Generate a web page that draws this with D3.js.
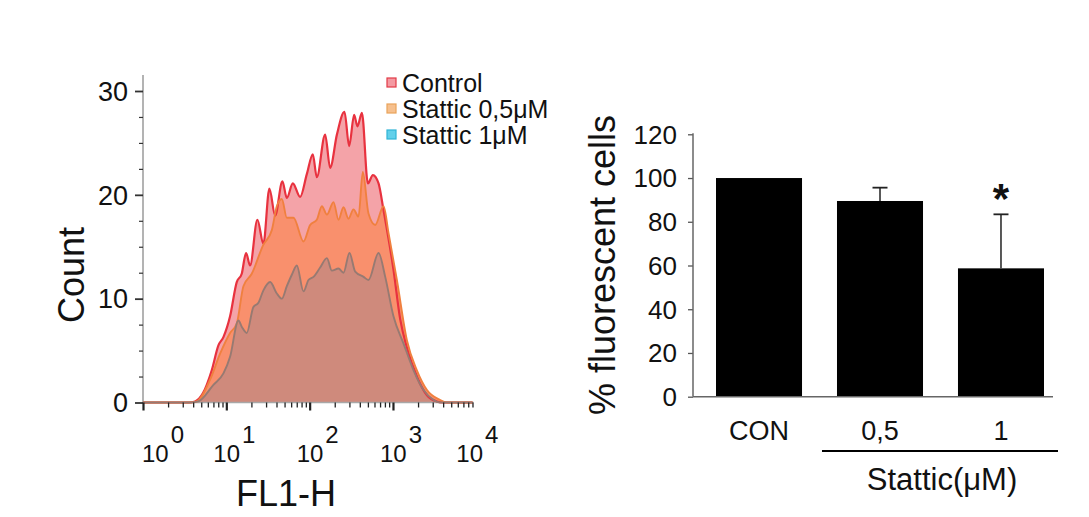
<!DOCTYPE html>
<html><head><meta charset="utf-8">
<script src="https://cdn.jsdelivr.net/npm/d3@7"></script>
<style>
html,body{margin:0;padding:0;background:#fff;}
svg{display:block;font-family:"Liberation Sans",Arial,Helvetica,sans-serif;}
</style></head>
<body><svg id="c" width="1089" height="517"></svg>
<script>
// ---------- DATA ----------
// Histogram (x = log10 FL1-H, y = count)
const ctrlLog   = [0,0.55,0.625,0.72,0.825,0.905,0.965,1.045,1.125,1.185,1.237,1.285,1.373,1.445,1.517,1.586,1.673,1.726,1.798,1.886,1.966,2.038,2.086,2.186,2.246,2.327,2.418,2.474,2.534,2.574,2.627,2.699,2.759,2.827,2.887,3.006,3.087,3.167,3.287,3.408,3.528,3.6,3.96];
const ctrlCount = [0,0,0.1,0.9,3.1,5.5,6.3,8.3,11.6,12.4,14.4,13.2,17.6,15.3,20.6,18.0,21.3,19.7,21.1,19.8,22.0,23.9,21.7,25.8,22.6,25.8,28.0,24.7,27.7,26.6,27.9,21.1,21.9,21.1,18.5,12.8,8.0,5.3,2.5,0.7,0.1,0,0];
const s05Log    = [0,0.56,0.645,0.805,0.925,1.045,1.125,1.205,1.305,1.445,1.546,1.606,1.666,1.726,1.806,1.926,2.006,2.086,2.147,2.207,2.286,2.346,2.406,2.466,2.526,2.586,2.638,2.706,2.787,2.887,2.947,3.047,3.167,3.287,3.408,3.568,3.65,3.96];
const s05Count  = [0,0,0.1,2.2,4.7,6.7,7.6,11.2,12.4,15.2,16.6,18.9,19.6,17.8,17.8,15.5,17.1,17.6,18.9,18.1,19.3,17.6,18.8,17.7,18.6,17.9,22.2,18.2,17.1,18.9,16.3,11.8,6.0,3.1,1.2,0.24,0,0];
const s1Log     = [0,0.58,0.664,0.845,0.965,1.045,1.145,1.185,1.245,1.325,1.385,1.445,1.526,1.606,1.666,1.726,1.786,1.846,1.926,1.986,2.046,2.126,2.207,2.267,2.346,2.406,2.478,2.547,2.647,2.706,2.827,2.907,3.006,3.126,3.247,3.367,3.487,3.56,3.96];
const s1Count   = [0,0,0.1,1.7,2.8,4.4,7.9,7.3,6.7,9.2,9.6,10.8,11.6,10.5,10.0,11.2,12.3,13.2,10.7,11.8,12.1,13.0,13.9,12.7,12.9,12.5,14.4,12.6,12.1,11.8,14.4,12.1,8.3,5.7,3.1,1.2,0.24,0,0];
const seriesNames = ["Control","Stattic 0,5μM","Stattic 1μM"];
const histYTicks = [0,10,20,30];
const histDecades = [0,1,2,3,4];

// Bar chart
const barCats   = ["CON","0,5","1"];
const barValues = [100, 89.5, 58.7];
const barErrors = [0, 6.1, 24.7];
const barSig    = ["", "", "*"];
const barYTicks = [0,20,40,60,80,100,120];

// ---------- DRAW ----------
const svg = d3.select("#c");

// ===== Left panel: histogram =====
const xH = d3.scaleLog().domain([1,1e4]).range([143,476.3]);
const yH = d3.scaleLinear().domain([0,30]).range([402.5,91]);
const axisEnd = xH(9000);

const fills  = ["#f4a3a8","#f9906d","#cf8a7c"];
const strokes= ["#e8323f","#f0803f","#977a72"];
const swFill = ["#f49aa2","#f6c08e","#62d0ea"];
const swStroke=["#e23a46","#e9a35a","#2fb4d6"];

const series = [[ctrlLog,ctrlCount],[s05Log,s05Count],[s1Log,s1Count]].map(([lx,cy]) =>
  lx.map((v,i)=>({x:Math.pow(10,v), y:cy[i]})));

const area = d3.area().curve(d3.curveMonotoneX)
  .x(d=>Math.min(xH(d.x),axisEnd)).y0(yH(0)).y1(d=>yH(d.y));
const line = d3.line().curve(d3.curveMonotoneX)
  .x(d=>Math.min(xH(d.x),axisEnd)).y(d=>yH(d.y));

const gH = svg.append("g");
series.forEach((s,i)=>{
  gH.append("path").datum(s).attr("d",area).attr("fill",fills[i]);
});

// axes lines
gH.append("line").attr("x1",143).attr("x2",143).attr("y1",75).attr("y2",yH(0))
  .attr("stroke","#9a9a9a").attr("stroke-width",1.5);
gH.append("line").attr("x1",143).attr("x2",axisEnd+1).attr("y1",yH(0)).attr("y2",yH(0))
  .attr("stroke","#a8a8a8").attr("stroke-width",1.5);

series.forEach((s,i)=>{
  gH.append("path").datum(s).attr("d",line).attr("fill","none")
    .attr("stroke",strokes[i]).attr("stroke-width",i===0?2.2:1.9).attr("stroke-linejoin","round");
});

// y axis ticks
const yMajor = d3.axisLeft(yH).tickValues(histYTicks).tickSize(8).tickFormat("");
const yMinor = d3.axisLeft(yH).tickValues(d3.range(0,31,2.5).filter(v=>v%10!==0)).tickSize(4).tickFormat("");
[yMajor,yMinor].forEach((ax,k)=>{
  const g = gH.append("g").attr("transform","translate(143,0)").call(ax);
  g.select(".domain").remove();
  g.selectAll("line").attr("stroke","#333").attr("stroke-width",k===0?1.8:1.2);
});
gH.selectAll(".ylab").data(histYTicks).join("text")
  .attr("x",128).attr("y",d=>yH(d)).attr("dy","0.36em").attr("text-anchor","end")
  .attr("font-size",27).attr("fill","#111").text(d=>d);

// x axis ticks (log)
const majorX = histDecades.filter(d=>d<4).map(d=>Math.pow(10,d));
const minorX = [];
[0,1,2,3].forEach(d=>{ for(let m=2;m<=9;m++) minorX.push(m*Math.pow(10,d)); });
const xMajorAx = d3.axisBottom(xH).tickValues(majorX).tickSize(8).tickFormat("");
const xMinorAx = d3.axisBottom(xH).tickValues(minorX).tickSize(5).tickFormat("");
[xMajorAx,xMinorAx].forEach((ax,k)=>{
  const g = gH.append("g").attr("transform",`translate(0,${yH(0)})`).call(ax);
  g.select(".domain").remove();
  g.selectAll("line").attr("stroke","#222").attr("stroke-width",k===0?2.2:1.3);
});
const xl = gH.selectAll(".xlab").data(histDecades).join("text")
  .attr("x",d=>xH(Math.pow(10,d)) + (d===0?-1:(d===4?-20:-13)))
  .attr("y",462).attr("font-size",24).attr("fill","#111");
xl.append("tspan").text("10");
xl.append("tspan").attr("dy",-19).attr("dx",2).text(d=>d);

gH.append("text").attr("x",286).attr("y",506).attr("text-anchor","middle")
  .attr("font-size",36).attr("fill","#111").text("FL1-H");
gH.append("text").attr("transform","translate(84,275) rotate(-90)").attr("text-anchor","middle")
  .attr("font-size",36).attr("fill","#111").text("Count");

// legend
const lg = gH.selectAll(".lg").data(seriesNames).join("g")
  .attr("transform",(d,i)=>`translate(387,${78+i*26})`);
lg.append("rect").attr("width",9).attr("height",9)
  .attr("fill",(d,i)=>swFill[i]).attr("stroke",(d,i)=>swStroke[i]).attr("stroke-width",1.2);
lg.append("text").attr("x",15).attr("y",14).attr("font-size",25).attr("fill","#111").text(d=>d);

// ===== Right panel: bar chart =====
const xB = d3.scaleBand().domain(barCats).range([716,1044]).paddingInner(0.289).paddingOuter(0);
const yB = d3.scaleLinear().domain([0,120]).range([396.7,134.3]);
const gB = svg.append("g");

gB.selectAll(".bar").data(barCats).join("rect")
  .attr("x",d=>xB(d)).attr("width",xB.bandwidth())
  .attr("y",(d,i)=>yB(barValues[i])).attr("height",(d,i)=>yB(0)-yB(barValues[i]))
  .attr("fill","#000");

barCats.forEach((c,i)=>{
  if(!barErrors[i]) return;
  const cx = xB(c)+xB.bandwidth()/2;
  gB.append("line").attr("x1",cx).attr("x2",cx).attr("y1",yB(barValues[i])).attr("y2",yB(barValues[i]+barErrors[i]))
    .attr("stroke","#222").attr("stroke-width",1.5);
  gB.append("line").attr("x1",cx-7.5).attr("x2",cx+7.5).attr("y1",yB(barValues[i]+barErrors[i])).attr("y2",yB(barValues[i]+barErrors[i]))
    .attr("stroke","#222").attr("stroke-width",1.8);
  if(barSig[i]) gB.append("text").attr("x",cx).attr("y",yB(barValues[i]+barErrors[i])-1)
    .attr("text-anchor","middle").attr("font-size",42).attr("font-weight","bold").attr("fill","#111").text(barSig[i]);
});

const yAx = d3.axisLeft(yB).tickValues(barYTicks).tickSize(5).tickFormat("");
const gy = gB.append("g").attr("transform","translate(693,0)").call(yAx);
gy.select(".domain").remove();
gy.selectAll("line").attr("stroke","#555").attr("stroke-width",1.3);
gB.append("line").attr("x1",693).attr("x2",693).attr("y1",yB(120)-1).attr("y2",yB(0))
  .attr("stroke","#666").attr("stroke-width",1.5);
gB.append("line").attr("x1",693).attr("x2",1053).attr("y1",yB(0)).attr("y2",yB(0))
  .attr("stroke","#666").attr("stroke-width",1.5);
gB.selectAll(".bylab").data(barYTicks).join("text")
  .attr("x",677).attr("y",d=>yB(d)).attr("dy","0.36em").attr("text-anchor","end")
  .attr("font-size",26).attr("fill","#111").text(d=>d);

gB.selectAll(".bxlab").data(barCats).join("text")
  .attr("x",d=>xB(d)+xB.bandwidth()/2).attr("y",440).attr("text-anchor","middle")
  .attr("font-size",27).attr("fill","#111").text(d=>d);

const bx0 = xB("0,5")-15, bx1 = xB("1")+xB.bandwidth()+14;
gB.append("line").attr("x1",bx0).attr("x2",bx1).attr("y1",451).attr("y2",451)
  .attr("stroke","#000").attr("stroke-width",2);
gB.append("text").attr("x",(bx0+bx1)/2+2).attr("y",490).attr("text-anchor","middle")
  .attr("font-size",31).attr("fill","#111").text("Stattic(μM)");

gB.append("text").attr("transform","translate(615,265) rotate(-90)").attr("text-anchor","middle")
  .attr("font-size",36).attr("fill","#111").text("% fluorescent cells");
</script></body></html>
